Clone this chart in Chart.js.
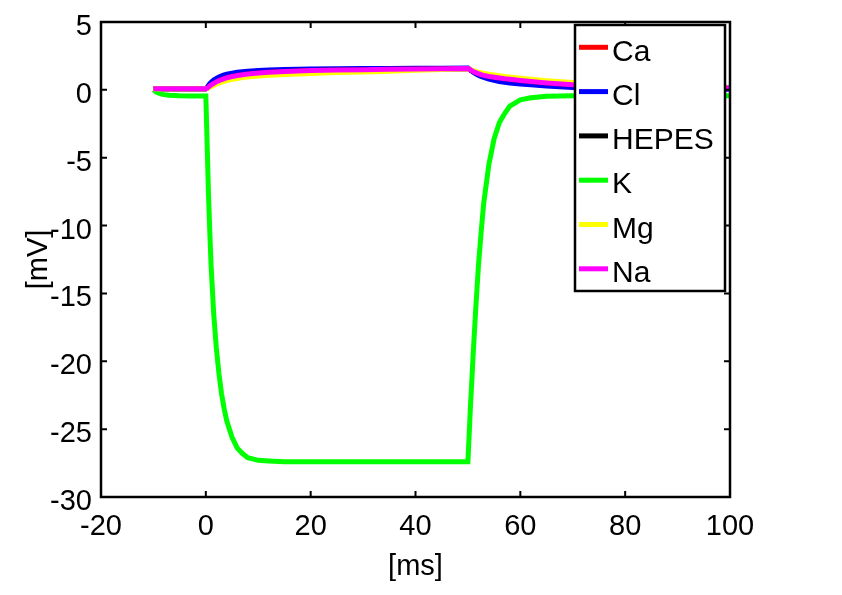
<!DOCTYPE html>
<html>
<head>
<meta charset="utf-8">
<script src="https://cdn.jsdelivr.net/npm/chart.js@4.4.1/dist/chart.umd.min.js"></script>
<style>
  html, body { margin: 0; padding: 0; background: #fff; }
  #wrap { width: 842px; height: 595px; }
</style>
</head>
<body>
<div id="wrap"><canvas id="c" width="842" height="595"></canvas></div>
<script>
// time axis [ms]
const t = [-10, -9.5, -9, -8, -7, -6, -5, -3, -1, 0,
  0.25, 0.5, 0.75, 1, 1.5, 2, 2.5, 3, 3.5, 4,
  5, 6, 7, 8, 10, 12, 15, 20, 25, 30,
  35, 40, 45, 50, 50.25, 50.5, 50.75, 51, 51.5, 52,
  52.5, 53, 54, 55, 56, 57, 58, 60, 62, 65,
  70, 75, 80, 90, 100];

// series values [mV]
const ca = [0.08, 0.08, 0.08, 0.08, 0.08, 0.08, 0.08, 0.08, 0.08, 0.08,
  0.12, 0.21, 0.29, 0.36, 0.48, 0.59, 0.68, 0.76, 0.83, 0.89,
  0.98, 1.06, 1.12, 1.17, 1.25, 1.3, 1.36, 1.42, 1.46, 1.49,
  1.52, 1.54, 1.56, 1.58, 1.52, 1.46, 1.41, 1.36, 1.27, 1.19,
  1.12, 1.07, 0.99, 0.93, 0.87, 0.82, 0.78, 0.69, 0.61, 0.51,
  0.38, 0.3, 0.24, 0.17, 0.13];
const cl = [0.08, 0.08, 0.08, 0.08, 0.08, 0.08, 0.08, 0.08, 0.08, 0.08,
  0.18, 0.33, 0.45, 0.55, 0.72, 0.85, 0.95, 1.03, 1.1, 1.15,
  1.23, 1.29, 1.34, 1.38, 1.43, 1.46, 1.5, 1.53, 1.55, 1.57,
  1.58, 1.59, 1.6, 1.61, 1.52, 1.44, 1.37, 1.3, 1.18, 1.07,
  0.99, 0.92, 0.8, 0.7, 0.62, 0.55, 0.5, 0.44, 0.37, 0.28,
  0.18, 0.13, 0.1, 0.06, 0.04];
const hepes = [0.08, 0.08, 0.08, 0.08, 0.08, 0.08, 0.08, 0.08, 0.08, 0.08,
  0.12, 0.21, 0.29, 0.36, 0.48, 0.59, 0.68, 0.76, 0.83, 0.89,
  0.98, 1.06, 1.12, 1.17, 1.25, 1.3, 1.36, 1.42, 1.46, 1.49,
  1.52, 1.54, 1.56, 1.58, 1.52, 1.46, 1.41, 1.36, 1.27, 1.19,
  1.12, 1.07, 0.99, 0.93, 0.87, 0.82, 0.78, 0.69, 0.61, 0.51,
  0.38, 0.3, 0.24, 0.17, 0.13];
const k = [0, -0.15, -0.25, -0.35, -0.4, -0.42, -0.44, -0.45, -0.45, -0.45,
  -4.0, -7.6, -10.4, -12.9, -16.5, -19.0, -20.9, -22.4, -23.5, -24.4,
  -25.6, -26.4, -26.8, -27.1, -27.3, -27.35, -27.4, -27.4, -27.4, -27.4,
  -27.4, -27.4, -27.4, -27.4, -25.3, -23.2, -21.4, -19.5, -16.1, -13.0,
  -10.6, -8.4, -5.5, -3.6, -2.4, -1.75, -1.2, -0.74, -0.58, -0.47,
  -0.44, -0.44, -0.44, -0.44, -0.44];
const mg = [0.08, 0.08, 0.08, 0.08, 0.08, 0.08, 0.08, 0.08, 0.08, 0.08,
  0.1, 0.14, 0.19, 0.23, 0.32, 0.41, 0.49, 0.56, 0.62, 0.68,
  0.77, 0.84, 0.9, 0.95, 1.02, 1.07, 1.13, 1.2, 1.27, 1.32,
  1.38, 1.44, 1.5, 1.55, 1.52, 1.49, 1.46, 1.43, 1.37, 1.31,
  1.26, 1.22, 1.16, 1.1, 1.04, 0.99, 0.95, 0.86, 0.78, 0.68,
  0.55, 0.42, 0.32, 0.2, 0.15];
const na = [0.08, 0.08, 0.08, 0.08, 0.08, 0.08, 0.08, 0.08, 0.08, 0.08,
  0.12, 0.21, 0.29, 0.36, 0.48, 0.59, 0.68, 0.76, 0.83, 0.89,
  0.98, 1.06, 1.12, 1.17, 1.25, 1.3, 1.36, 1.42, 1.46, 1.49,
  1.52, 1.54, 1.56, 1.58, 1.52, 1.46, 1.41, 1.36, 1.27, 1.19,
  1.12, 1.07, 0.99, 0.93, 0.87, 0.82, 0.78, 0.69, 0.61, 0.51,
  0.38, 0.3, 0.24, 0.17, 0.13];

const seriesNames = ['Ca', 'Cl', 'HEPES', 'K', 'Mg', 'Na'];
const seriesValues = [ca, cl, hepes, k, mg, na];
const seriesColors = ['#ff0000', '#0000ff', '#000000', '#00ff00', '#ffff00', '#ff00ff'];

const xTicks = [-20, 0, 20, 40, 60, 80, 100];
const yTicks = [-30, -25, -20, -15, -10, -5, 0, 5];

const FONT = '"Liberation Sans", Arial, Helvetica, sans-serif';
Chart.defaults.font.family = FONT;
Chart.defaults.font.size = 29;
Chart.defaults.color = '#000';

const datasets = seriesNames.map((name, i) => ({
  label: name,
  data: t.map((x, j) => ({ x: x, y: seriesValues[i][j] })),
  borderColor: seriesColors[i],
  backgroundColor: seriesColors[i],
  borderWidth: 5,
  pointRadius: 0,
  tension: 0,
  fill: false,
  order: seriesNames.length - i
}));

const framePlugin = {
  id: 'frame',
  afterDatasetsDraw(chart) {
    const { ctx, chartArea: a, scales } = chart;
    ctx.save();
    ctx.strokeStyle = '#000';
    ctx.lineWidth = 2.5;
    ctx.strokeRect(a.left, a.top, a.right - a.left, a.bottom - a.top);
    ctx.lineWidth = 2;
    const L = 6;
    ctx.beginPath();
    xTicks.forEach(v => {
      const px = scales.x.getPixelForValue(v);
      ctx.moveTo(px, a.bottom); ctx.lineTo(px, a.bottom - L);
      ctx.moveTo(px, a.top); ctx.lineTo(px, a.top + L);
    });
    yTicks.forEach(v => {
      const py = scales.y.getPixelForValue(v);
      ctx.moveTo(a.left, py); ctx.lineTo(a.left + L, py);
      ctx.moveTo(a.right, py); ctx.lineTo(a.right - L, py);
    });
    ctx.stroke();
    ctx.restore();
  },
  afterDraw(chart) {
    const { ctx, chartArea: a } = chart;
    const bw = 150, bh = 266;
    const bx = a.right - 155, by = a.top + 3;
    ctx.save();
    ctx.fillStyle = '#fff';
    ctx.fillRect(bx, by, bw, bh);
    ctx.strokeStyle = '#000';
    ctx.lineWidth = 2.5;
    ctx.strokeRect(bx, by, bw, bh);
    ctx.font = '30px ' + FONT;
    ctx.textBaseline = 'middle';
    ctx.textAlign = 'left';
    chart.data.datasets.forEach((ds, i) => {
      const yy = by + 22.3 + i * 44.3;
      ctx.strokeStyle = ds.borderColor;
      ctx.lineWidth = 5;
      ctx.beginPath();
      ctx.moveTo(bx + 4, yy);
      ctx.lineTo(bx + 33, yy);
      ctx.stroke();
      ctx.fillStyle = '#000';
      ctx.fillText(ds.label, bx + 37, yy + 5);
    });
    ctx.restore();
  }
};

new Chart(document.getElementById('c'), {
  type: 'line',
  data: { datasets: datasets },
  options: {
    responsive: false,
    animation: false,
    devicePixelRatio: 1,
    layout: { padding: { top: 22, right: 112, left: 0, bottom: 0 } },
    plugins: { legend: { display: false }, tooltip: { enabled: false } },
    scales: {
      x: {
        type: 'linear',
        min: -20, max: 100,
        afterFit(s) { s.height = 98; s.paddingLeft = 0; s.paddingRight = 0; },
        afterBuildTicks(s) { s.ticks = xTicks.map(v => ({ value: v })); },
        grid: { display: false, drawTicks: false },
        border: { display: false },
        ticks: { padding: 13, maxRotation: 0, autoSkip: false },
        title: { display: true, text: '[ms]', font: { size: 29, lineHeight: 1.2 }, padding: { top: 0, bottom: 10.6 } }
      },
      y: {
        type: 'linear',
        min: -30, max: 5,
        afterFit(s) { s.width = 101; s.paddingTop = 0; s.paddingBottom = 0; },
        afterBuildTicks(s) { s.ticks = yTicks.map(v => ({ value: v })); },
        grid: { display: false, drawTicks: false },
        border: { display: false },
        ticks: { padding: 9, labelOffset: 5, autoSkip: false },
        title: { display: true, text: '[mV]', font: { size: 29, lineHeight: 1.2 }, padding: { top: 22, bottom: 0 } }
      }
    }
  },
  plugins: [framePlugin]
});
</script>
</body>
</html>
